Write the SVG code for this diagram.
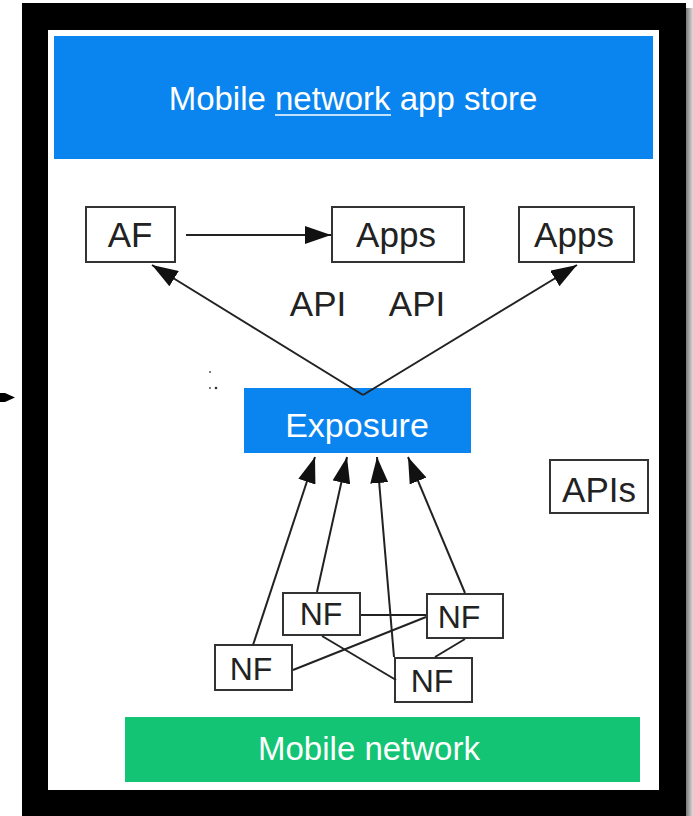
<svg xmlns="http://www.w3.org/2000/svg" width="693" height="816" viewBox="0 0 693 816">
<defs>
<style>
.box{fill:#fff;stroke:#333;stroke-width:2}
.lbl{font-family:"Liberation Sans",Arial,sans-serif;font-size:35px;fill:#222;text-anchor:middle}
.nf{font-family:"Liberation Sans",Arial,sans-serif;font-size:32px;fill:#222;text-anchor:middle}
.wt{font-family:"Liberation Sans",Arial,sans-serif;font-size:33px;fill:#fff;text-anchor:middle}
.ln{stroke:#222;stroke-width:2;fill:none}
.ar{stroke:#222;stroke-width:2;fill:none;marker-end:url(#ah)}
</style>
<marker id="ah" viewBox="0 0 26 18" refX="26" refY="9" markerWidth="26" markerHeight="18" markerUnits="userSpaceOnUse" orient="auto">
<path d="M0,0 L26,9 L0,18 z" fill="#111"/>
</marker>
<linearGradient id="sh" x1="0" x2="1" y1="0" y2="0">
<stop offset="0" stop-color="#777"/>
<stop offset="1" stop-color="#ddd"/>
</linearGradient>
</defs>
<rect width="693" height="816" fill="#fff"/>
<rect x="686" y="8" width="7" height="808" fill="url(#sh)"/>
<rect x="22" y="3" width="664" height="813" fill="#000"/>
<rect x="48" y="30" width="611" height="760" fill="#fff"/>
<path d="M0,393 L5,393 L15,397.5 L5,402 L0,402 z" fill="#000"/>
<circle cx="210" cy="372" r="0.9" fill="#444"/>
<circle cx="210" cy="388" r="0.9" fill="#444"/>
<circle cx="216" cy="388" r="1.3" fill="#333"/>

<g id="app-store">
<rect x="54" y="36" width="599" height="123" fill="#0a84ee"/>
<text class="wt" x="353" y="110">Mobile network app store</text>
<line x1="275" y1="115" x2="391" y2="115" stroke="#fff" stroke-width="1.6"/>
</g>

<g id="mobile-network">
<rect x="125" y="717" width="515" height="65" fill="#13c474"/>
<text class="wt" x="369" y="760">Mobile network</text>
</g>

<g id="af">
<rect class="box" x="86" y="207" width="89" height="55"/>
<text class="lbl" x="130" y="247">AF</text>
</g>
<g id="apps1">
<rect class="box" x="332" y="207" width="132" height="55"/>
<text class="lbl" x="396" y="247">Apps</text>
</g>
<g id="apps2">
<rect class="box" x="519" y="207" width="115" height="55"/>
<text class="lbl" x="574" y="247">Apps</text>
</g>
<g id="api-labels">
<text class="lbl" x="318" y="316">API</text>
<text class="lbl" x="417" y="316">API</text>
</g>
<g id="exposure">
<rect x="244" y="388" width="227" height="65" fill="#0a84ee"/>
<text class="wt" x="357" y="437" style="font-size:34px">Exposure</text>
</g>
<g id="apis">
<rect class="box" x="550" y="460" width="98" height="53"/>
<text class="lbl" x="599" y="502">APIs</text>
</g>
<g id="nf1">
<rect class="box" x="283" y="593" width="77" height="42"/>
<text class="nf" x="321" y="625">NF</text>
</g>
<g id="nf2">
<rect class="box" x="427" y="594" width="76" height="44"/>
<text class="nf" x="459" y="628">NF</text>
</g>
<g id="nf3">
<rect class="box" x="215" y="645" width="77" height="45"/>
<text class="nf" x="251" y="680">NF</text>
</g>
<g id="nf4">
<rect class="box" x="395" y="658" width="77" height="44"/>
<text class="nf" x="432" y="692">NF</text>
</g>

<g id="connectors">
<line class="ar" x1="186" y1="235" x2="331" y2="235"/>
<line class="ar" x1="363" y1="395" x2="152" y2="265"/>
<line class="ar" x1="363" y1="395" x2="577" y2="265"/>
<line class="ar" x1="253" y1="645" x2="315" y2="457"/>
<line class="ar" x1="317" y1="592" x2="347" y2="457"/>
<line class="ar" x1="394" y1="657" x2="377" y2="457"/>
<line class="ar" x1="465" y1="593" x2="408" y2="457"/>
<line class="ln" x1="361" y1="615" x2="426" y2="615"/>
<line class="ln" x1="293" y1="670" x2="426" y2="617"/>
<line class="ln" x1="322" y1="636" x2="396" y2="680"/>
<line class="ln" x1="465" y1="639" x2="435" y2="657"/>
</g>
</svg>
